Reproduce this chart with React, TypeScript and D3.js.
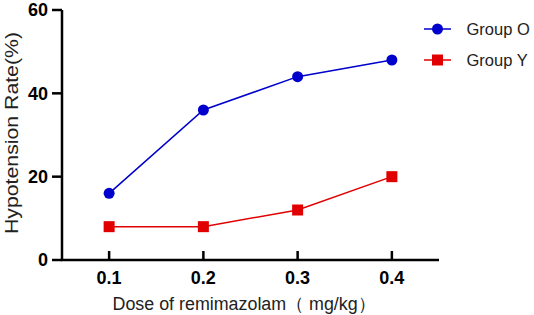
import React from "react"
import * as d3 from "d3"

// Data
const doses = [0.1, 0.2, 0.3, 0.4]
const groupO = [16, 36, 44, 48]
const groupY = [8, 8, 12, 20]
const yTicks = [0, 20, 40, 60]
const seriesNames = ["Group O", "Group Y"]
const seriesColors = ["#0000CC", "#E00000"]

export default function App() {
  const totalW = 534
  const totalH = 315
  const margin = { top: 10, left: 62, right: 95, bottom: 55 }
  const w = totalW - margin.left - margin.right
  const h = totalH - margin.top - margin.bottom

  const xScale = d3.scaleLinear().domain([0.05, 0.45]).range([0, w])
  const yScale = d3.scaleLinear().domain([0, 60]).range([h, 0])

  const line = d3
    .line<number>()
    .x((_, i) => xScale(doses[i]))
    .y((d) => yScale(d))

  const font = "Arial, 'Liberation Sans', sans-serif"

  return (
    <svg
      width={totalW}
      height={totalH}
      style={{ position: "absolute", left: 0, top: 0, background: "#fff" }}
    >
      <g transform={`translate(${margin.left}, ${margin.top})`}>
        {/* axes */}
        <line x1={0} x2={0} y1={0} y2={h} stroke="#000" strokeWidth={2.5} />
        <line x1={-1.2} x2={w} y1={h} y2={h} stroke="#000" strokeWidth={2.5} />
        {yTicks.map((t) => (
          <g key={`yt-${t}`}>
            <line x1={-10} x2={0} y1={yScale(t)} y2={yScale(t)} stroke="#000" strokeWidth={2.5} />
            <text
              x={-14}
              y={yScale(t)}
              dy="0.35em"
              textAnchor="end"
              fontFamily={font}
              fontWeight="bold"
              fontSize="18px"
            >
              {t}
            </text>
          </g>
        ))}
        {doses.map((d) => (
          <g key={`xt-${d}`}>
            <line x1={xScale(d)} x2={xScale(d)} y1={h} y2={h - 9} stroke="#000" strokeWidth={2.5} />
            <text
              x={xScale(d)}
              y={h + 18}
              dy="0.35em"
              textAnchor="middle"
              fontFamily={font}
              fontWeight="bold"
              fontSize="18px"
            >
              {d}
            </text>
          </g>
        ))}
        <text
          x={182}
          y={h + 50}
          textAnchor="middle"
          fontFamily={font}
          fontSize="18px"
          textLength={263}
          lengthAdjust="spacingAndGlyphs"
          fill="#222"
        >
          Dose of remimazolam（ mg/kg）
        </text>
        <text
          transform={`translate(${-44}, ${123}) rotate(-90)`}
          textAnchor="middle"
          fontFamily={font}
          fontSize="18px"
          textLength={202}
          lengthAdjust="spacingAndGlyphs"
          fill="#222"
        >
          Hypotension Rate(%)
        </text>

        {/* series */}
        <path d={line(groupO) || ""} fill="none" stroke={seriesColors[0]} strokeWidth={1.5} />
        <path d={line(groupY) || ""} fill="none" stroke={seriesColors[1]} strokeWidth={1.5} />
        {groupO.map((v, i) => (
          <circle key={`o-${i}`} cx={xScale(doses[i])} cy={yScale(v)} r={5.5} fill={seriesColors[0]} />
        ))}
        {groupY.map((v, i) => (
          <rect
            key={`y-${i}`}
            x={xScale(doses[i]) - 5.5}
            y={yScale(v) - 5.5}
            width={11}
            height={11}
            fill={seriesColors[1]}
          />
        ))}
      </g>

      {/* legend */}
      {seriesNames.map((name, i) => {
        const ly = 29 + i * 31
        return (
          <g key={name}>
            <line x1={424} x2={451} y1={ly} y2={ly} stroke={seriesColors[i]} strokeWidth={1.5} />
            {i === 0 ? (
              <circle cx={437.5} cy={ly} r={5.5} fill={seriesColors[i]} />
            ) : (
              <rect x={432} y={ly - 5.5} width={11} height={11} fill={seriesColors[i]} />
            )}
            <text x={466.5} y={ly} dy="0.35em" fontFamily={font} fontSize="16.5px" fill="#222">
              {name}
            </text>
          </g>
        )
      })}
    </svg>
  )
}
